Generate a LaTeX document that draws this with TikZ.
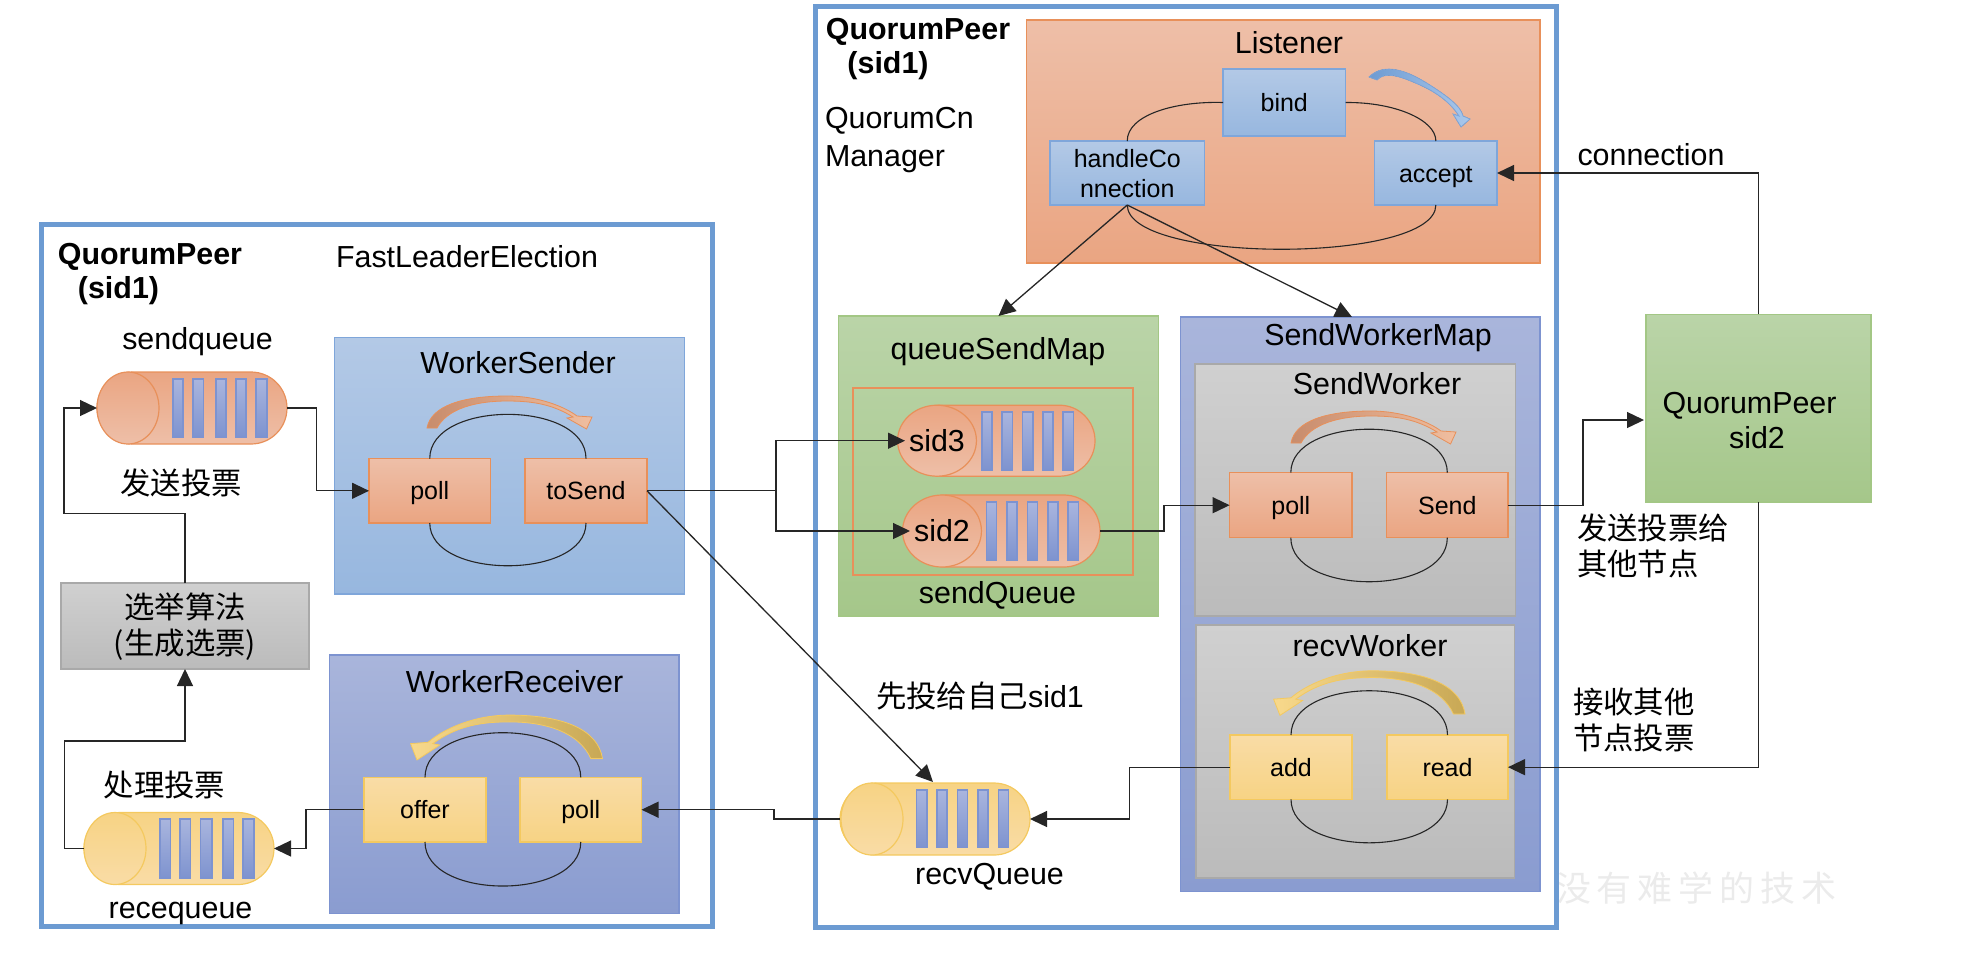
\documentclass[tikz,border=0pt]{standalone}
\usepackage{fontspec}
\setmainfont{Liberation Sans}
\newfontfamily\cjk{Noto Sans CJK SC}
\usetikzlibrary{arrows.meta}
\usetikzlibrary{shapes.geometric,shapes.misc}
\definecolor{framecol}{HTML}{6C9BD2}
\definecolor{orangeline}{HTML}{E8905A}
\definecolor{blueline}{HTML}{7FA6DA}
\definecolor{purpleline}{HTML}{7D93D0}
\definecolor{greenline}{HTML}{A3C785}
\definecolor{yellowline}{HTML}{F4C95F}
\definecolor{grayline}{HTML}{A9A9A9}
\definecolor{bluetop}{HTML}{B3C9E6}
\definecolor{bluebot}{HTML}{97B7DF}
\definecolor{orangetop}{HTML}{EEBFA8}
\definecolor{orangebot}{HTML}{EAA582}
\definecolor{yellowtop}{HTML}{F9DCA6}
\definecolor{yellowbot}{HTML}{F7D384}
\definecolor{purpletop}{HTML}{A9B5DB}
\definecolor{purplebot}{HTML}{8A9CD0}
\definecolor{greentop}{HTML}{BAD4A8}
\definecolor{greenbot}{HTML}{A5C78A}
\definecolor{graytop}{HTML}{D0D0D0}
\definecolor{graybot}{HTML}{BBBBBB}
\definecolor{bartop}{HTML}{A9B5DE}
\definecolor{barbot}{HTML}{7E93CF}
\definecolor{turnorange}{HTML}{C88C6C}
\definecolor{turnorangeb}{HTML}{F0BEA0}
\definecolor{turnyellow}{HTML}{F8D98C}
\definecolor{turnyellowb}{HTML}{C8A855}
\definecolor{turnblue}{HTML}{6E9BD2}
\definecolor{turnblueb}{HTML}{AAC8EB}
\tikzset{
  txt/.style={inner sep=0pt,outer sep=0pt,font=\fontsize{15.2}{18.5}\selectfont,align=center},
  txtleft/.style={txt,align=left},
  boldtxt/.style={txt,font=\fontsize{15.2}{18.5}\selectfont\bfseries},
  hantxt/.style={txt,font=\fontsize{15.2}{18}\selectfont\cjk},
  hanleft/.style={hantxt,align=left},
  watermark/.style={txt,font=\fontsize{17.5}{20}\selectfont\cjk,text=black!8},
  box/.style={inner sep=0pt,outer sep=0pt,line width=0.6pt,align=center,font=\fontsize{12.5}{15}\selectfont,text height=9pt,text depth=0pt},
  frame/.style={box,draw=framecol,line width=2.5pt},
  bluebox/.style={box,draw=blueline,top color=bluetop,bottom color=bluebot},
  orangebox/.style={box,draw=orangeline,top color=orangetop,bottom color=orangebot},
  yellowbox/.style={box,draw=yellowline,top color=yellowtop,bottom color=yellowbot},
  purplebox/.style={box,draw=purpleline,top color=purpletop,bottom color=purplebot},
  greenbox/.style={box,draw=greenline,top color=greentop,bottom color=greenbot},
  graybox/.style={box,draw=grayline,top color=graytop,bottom color=graybot},
  queue/.style={rounded rectangle,inner sep=0pt,outer sep=0pt,line width=0.6pt,minimum width=95pt,minimum height=36pt},
  endcap/.style={ellipse,inner sep=0pt,outer sep=0pt,line width=0.6pt,minimum width=31pt,minimum height=36pt,font=\fontsize{15.2}{18.5}\selectfont},
  orangequeue/.style={queue,draw=orangeline,top color=orangebot,bottom color=orangetop},
  orangecap/.style={endcap,draw=orangeline,top color=orangebot,bottom color=orangetop},
  yellowqueue/.style={queue,draw=yellowline,top color=yellowbot,bottom color=yellowtop},
  yellowcap/.style={endcap,draw=yellowline,top color=yellowbot,bottom color=yellowtop},
  bar/.style={draw=purpleline,line width=0.6pt,top color=bartop,bottom color=barbot},
  conn/.style={black!85,line width=0.65pt},
  arrowline/.style={conn,-{Triangle[length=8.5pt,width=8pt]}},
  loopline/.style={black!85,line width=0.55pt},
  turnarrow/.pic={
    \path[pic actions] (0,0) .. controls (4,-22) and (35,-32) .. (80,-32)
      .. controls (112,-32) and (138,-21) .. (150,-12) -- (165,-11) -- (159.5,1) -- (140,-10) -- (146,-11)
      .. controls (125,-24) and (105,-27) .. (80,-27)
      .. controls (48,-27) and (20,-19) .. (10,0) -- cycle;
  },
}
\begin{document}
\begin{tikzpicture}[x=0.5pt,y=-0.5pt]
  \useasboundingbox (0,0) rectangle (1984,954);
  % Wasserzeichen
  \node[watermark] (mark) at (1696,888) {没\,有\,难\,学\,的\,技\,术};
  % Rahmen
  \node[frame,minimum width=335.75pt,minimum height=351pt] (peerleft) at (376.75,575) {};
  \node[frame,minimum width=370.5pt,minimum height=460.25pt] (peerright) at (1186,466.75) {};
  \node[boldtxt] (peerlefta) at (150,257) {QuorumPeer};
  \node[boldtxt] (peerleftb) at (118.5,291) {(sid1)};
  \node[txt] (fastle) at (467,257) {FastLeaderElection};
  \node[boldtxt] (peerrighta) at (918,32) {QuorumPeer};
  \node[boldtxt] (peerrightb) at (888,66) {(sid1)};
  \node[txtleft,anchor=north west] (cnx) at (825,107) {QuorumCn\\[0.6pt]Manager};
  % linke Seite
  \node[txt] (sendqtext) at (197.5,342) {sendqueue};
  \node[orangequeue] (sendq) at (192,408) {};
  \node[orangecap] (sendqcap) at (128,408) {};
  \node[hantxt] (sendtext) at (181,483) {发送投票};
  \node[graybox,minimum width=124pt,minimum height=43pt,font=\fontsize{15.2}{18}\selectfont\cjk,text height=28pt] (algo) at (185,626) {选举算法\\(生成选票)};
  \node[hantxt] (handletext) at (164.5,785) {处理投票};
  \node[yellowqueue] (receq) at (179,848.5) {};
  \node[yellowcap] (receqcap) at (115,848.5) {};
  \node[txt] (receqtext) at (180.5,913) {recequeue};
  % Worker links
  \node[bluebox,minimum width=175pt,minimum height=128.25pt] (wsender) at (509.5,465.75) {};
  \node[txt] (wsendertext) at (518,362.5) {WorkerSender};
  \node[orangebox,minimum width=60.75pt,minimum height=32.2pt] (polla) at (429.75,490.8) {poll};
  \node[orangebox,minimum width=61pt,minimum height=32.2pt] (tosend) at (586,490.8) {toSend};
  \node[purplebox,minimum width=174.7pt,minimum height=129.25pt] (wrecv) at (504.3,784.25) {};
  \node[txt] (wrecvtext) at (514.5,682) {WorkerReceiver};
  \node[yellowbox,minimum width=61pt,minimum height=32.3pt] (offer) at (425,809.7) {offer};
  \node[yellowbox,minimum width=60.75pt,minimum height=32.3pt] (pollb) at (580.75,809.7) {poll};
  \draw[loopline] (polla.north) .. controls +(0,-59) and +(0,-59) .. (tosend.north);
  \draw[loopline] (polla.south) .. controls +(0,57) and +(0,57) .. (tosend.south);
  \draw[loopline] (offer.north) .. controls +(0,-59.6) and +(0,-59.6) .. (pollb.north);
  \draw[loopline] (offer.south) .. controls +(0,58.7) and +(0,58.7) .. (pollb.south);
  \pic[draw=orangeline,line width=0.4pt,left color=turnorange,right color=turnorangeb] at (427,428) {turnarrow};
  \pic[xscale=-1.163,yscale=1.36,draw=yellowline,line width=0.4pt,left color=turnyellow,right color=turnyellowb] at (602.5,758.6) {turnarrow};
  % Listener
  \node[orangebox,minimum width=256.75pt,minimum height=121.5pt] (listener) at (1283.25,141.5) {};
  \node[txt] (listenertext) at (1289,43) {Listener};
  \node[bluebox,minimum width=61.25pt,minimum height=33.5pt] (bind) at (1284.25,102.5) {bind};
  \node[bluebox,minimum width=77.25pt,minimum height=32pt,text height=24pt] (handlecon) at (1127.25,173) {handleCo\\nnection};
  \node[bluebox,minimum width=61.15pt,minimum height=32pt] (accept) at (1435.85,173) {accept};
  \draw[loopline] (bind.west) .. controls (1175,101) and (1127,115) .. (handlecon.north);
  \draw[loopline] (bind.east) .. controls (1395,102) and (1436,120) .. (accept.north);
  \draw[loopline] (handlecon.south) .. controls (1127,264) and (1436,264) .. (accept.south);
  \filldraw[draw=blueline,line width=0.4pt,left color=turnblue,right color=turnblueb] (1369,77) .. controls (1382,64) and (1402,68) .. (1425,82) .. controls (1446,95) and (1461,106) .. (1463,116) -- (1470,119) -- (1461,127) -- (1453,114) -- (1459,116) .. controls (1452,105) and (1440,94) .. (1420,85) .. controls (1400,76) and (1385,71) .. (1377,80) -- cycle;
  % queueSendMap
  \node[greenbox,minimum width=160pt,minimum height=150pt] (qsmap) at (998.45,466) {};
  \node[txt] (qsmaptext) at (998,352) {queueSendMap};
  \node[box,draw=orangeline,line width=1.3pt,minimum width=140pt,minimum height=93.5pt] (qsinner) at (993,481.5) {};
  \node[orangequeue,minimum height=35.5pt] (sidthree) at (1000,440.7) {};
  \node[orangecap,minimum height=35.5pt] (sidthreecap) at (937,440.7) {sid3};
  \node[orangequeue] (sidtwo) at (1005,531) {};
  \node[orangecap] (sidtwocap) at (942,531) {sid2};
  \node[txt] (sendqueuetext) at (997.5,595) {sendQueue};
  % SendWorkerMap
  \node[purplebox,minimum width=179.75pt,minimum height=287.35pt] (swmap) at (1360.25,604.35) {};
  \node[txt] (swmaptext) at (1378,338) {SendWorkerMap};
  \node[graybox,minimum width=160.3pt,minimum height=126pt] (sworker) at (1355.3,490) {};
  \node[txt] (sworkertext) at (1377,384) {SendWorker};
  \node[orangebox,minimum width=61.2pt,minimum height=32.5pt] (pollc) at (1290.8,505.2) {poll};
  \node[orangebox,minimum width=60.7pt,minimum height=32.5pt] (sendbox) at (1447.3,505.2) {Send};
  \node[graybox,minimum width=159.35pt,minimum height=126.5pt] (rworker) at (1355.35,751.5) {};
  \node[txt] (rworkertext) at (1370,645.7) {recvWorker};
  \node[yellowbox,minimum width=61pt,minimum height=32.15pt] (addbox) at (1291,767.15) {add};
  \node[yellowbox,minimum width=60.5pt,minimum height=32.15pt] (readbox) at (1447.5,767.15) {read};
  \draw[loopline] (pollc.north) .. controls +(0,-58) and +(0,-58) .. (sendbox.north);
  \draw[loopline] (pollc.south) .. controls +(0,58.7) and +(0,58.7) .. (sendbox.south);
  \draw[loopline] (addbox.north) .. controls +(0,-59) and +(0,-59) .. (readbox.north);
  \draw[loopline] (addbox.south) .. controls +(0,58) and +(0,58) .. (readbox.south);
  \pic[draw=orangeline,line width=0.4pt,left color=turnorange,right color=turnorangeb] at (1291,443) {turnarrow};
  \pic[xscale=-1.16,yscale=1.35,draw=yellowline,line width=0.4pt,left color=turnyellow,right color=turnyellowb] at (1465,714) {turnarrow};
  % recvQueue
  \node[yellowqueue] (recvq) at (935,819) {};
  \node[yellowcap] (recvqcap) at (872,819) {};
  \node[txt] (recvqtext) at (989.5,877) {recvQueue};
  \node[hantxt] (firstself) at (980,696) {先投给自己{\rmfamily sid1}};
  % QuorumPeer sid2
  \node[greenbox,minimum width=112.5pt,minimum height=93.8pt] (peertwo) at (1758.5,408.2) {};
  \node[txt] (peertwoa) at (1749.5,406) {QuorumPeer};
  \node[txt] (peertwob) at (1757,438) {sid2};
  \node[txt] (conntext) at (1651,155) {connection};
  \node[hanleft,anchor=north west] (sendother) at (1577,514) {发送投票给\\其他节点};
  \node[hanleft,anchor=north west] (recvother) at (1573,688) {接收其他\\节点投票};
  % Balken
  \filldraw[bar] (173,379) rectangle (183,437);
  \filldraw[bar] (193,379) rectangle (203.6,437);
  \filldraw[bar] (216,379) rectangle (226,437);
  \filldraw[bar] (236,379) rectangle (246,437);
  \filldraw[bar] (256,379) rectangle (267,437);
  \filldraw[bar] (160,819) rectangle (170.6,878);
  \filldraw[bar] (180,819) rectangle (190.5,878);
  \filldraw[bar] (200.7,819) rectangle (212,878);
  \filldraw[bar] (223,819) rectangle (233.6,878);
  \filldraw[bar] (243,819) rectangle (254,878);
  \filldraw[bar] (982,412) rectangle (992,470);
  \filldraw[bar] (1002,412) rectangle (1012.5,470);
  \filldraw[bar] (1022.7,412) rectangle (1033,470);
  \filldraw[bar] (1043,412) rectangle (1053,470);
  \filldraw[bar] (1063,412) rectangle (1073.6,470);
  \filldraw[bar] (986.6,502) rectangle (996.8,560);
  \filldraw[bar] (1007,502) rectangle (1017,560);
  \filldraw[bar] (1027.4,502) rectangle (1037.6,560);
  \filldraw[bar] (1048,502) rectangle (1058,560);
  \filldraw[bar] (1068,502) rectangle (1078.5,560);
  \filldraw[bar] (916.7,790) rectangle (927,847.7);
  \filldraw[bar] (937,790) rectangle (947,847.7);
  \filldraw[bar] (957.5,790) rectangle (967.8,847.7);
  \filldraw[bar] (978,790) rectangle (988,847.7);
  \filldraw[bar] (998.4,790) rectangle (1008.6,847.7);
  % Hilfspunkte
  \coordinate (sendbend) at (316.5,408);
  \coordinate (algoup) at (64,513.5);
  \coordinate (receup) at (64.5,741);
  \coordinate (offerbend) at (306,809.7);
  \coordinate (recvbend) at (774,819);
  \coordinate (forkpoint) at (776,490.8);
  \coordinate (recvin) at (933,782);
  \coordinate (sidbend) at (1164,531);
  \coordinate (addbend) at (1129.5,767.15);
  \coordinate (workerin) at (1352,317);
  \coordinate (sendbendb) at (1583,505.2);
  \coordinate (peerin) at (1644,420);
  % Verbindungen
  \draw[arrowline] (sendq.east) -- (sendbend) |- (polla.west);
  \draw[arrowline] (algo.north) |- (algoup) |- (sendq.west);
  \draw[arrowline] (receq.west) -| (receup) -| (algo.south);
  \draw[arrowline] (offer.west) -- (offerbend) |- (receq.east);
  \draw[arrowline] (recvq.west) -- (recvbend) |- (pollb.east);
  \draw[conn] (tosend.east) -- (forkpoint);
  \draw[arrowline] (forkpoint) |- (sidthree.west);
  \draw[arrowline] (forkpoint) |- (sidtwo.west);
  \draw[arrowline] (tosend.east) -- (recvin);
  \draw[arrowline] (handlecon.south) -- (qsmap.north);
  \draw[arrowline] (handlecon.south) -- (workerin);
  \draw[arrowline] (sidtwo.east) -- (sidbend) |- (pollc.west);
  \draw[arrowline] (addbox.west) -- (addbend) |- (recvq.east);
  \draw[arrowline] (sendbox.east) -- (sendbendb) |- (peerin);
  \draw[arrowline] (peertwo.north) |- (accept.east);
  \draw[arrowline] (peertwo.south) |- (readbox.east);
\end{tikzpicture}
\end{document}
